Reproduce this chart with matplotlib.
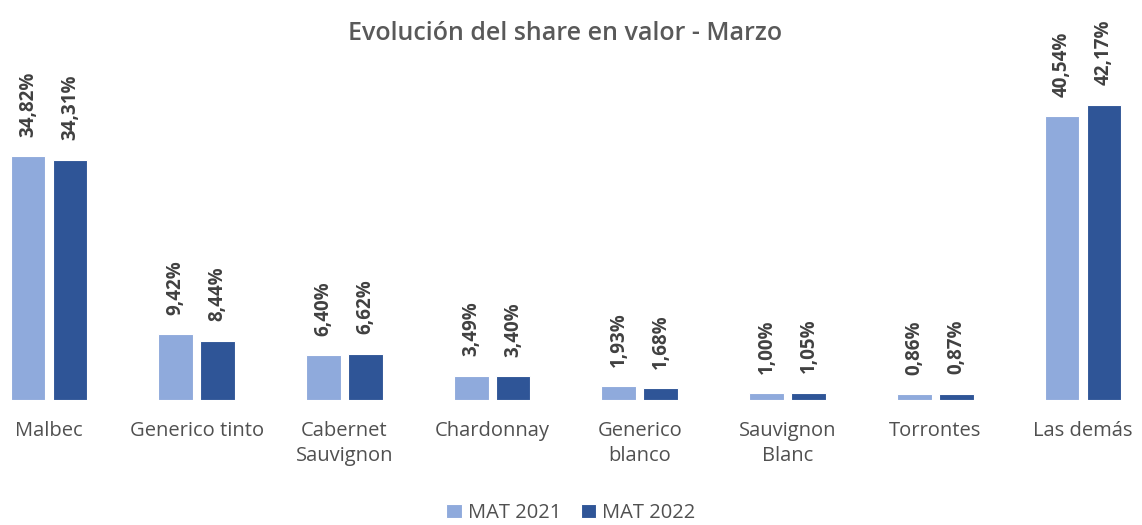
import matplotlib.pyplot as plt
import numpy as np

# datos
categorias = ['Malbec', 'Generico tinto', 'Cabernet\nSauvignon', 'Chardonnay',
              'Generico\nblanco', 'Sauvignon\nBlanc', 'Torrontes', 'Las demás']
mat_2021 = [34.82, 9.42, 6.40, 3.49, 1.93, 1.00, 0.86, 40.54]
mat_2022 = [34.31, 8.44, 6.62, 3.40, 1.68, 1.05, 0.87, 42.17]
series = ['MAT 2021', 'MAT 2022']
colores = ['#8FAADC', '#2F5597']

plt.rcParams['font.family'] = ['Open Sans', 'DejaVu Sans']
gris = '#595959'

fig = plt.figure(figsize=(11.42, 5.25), dpi=100)
ax = fig.add_axes([0, 125/525, 1, 350/525])

x = np.arange(len(categorias))
ancho = 0.235
desp = 0.142
for vals, col, nom, d in zip([mat_2021, mat_2022], colores, series, [-desp, desp]):
    barras = ax.bar(x + d, vals, ancho, color=col, edgecolor='white', linewidth=0.8, label=nom)
    for b, v in zip(barras, vals):
        ax.annotate(('%.2f%%' % v).replace('.', ','),
                    (b.get_x() + b.get_width()/2, b.get_height()),
                    xytext=(0, 14), textcoords='offset points',
                    rotation=90, ha='center', va='bottom',
                    fontsize=13.5, fontweight='bold', color='#404040')

ax.set_xlim(-0.332, 7.40)
ax.set_ylim(0, 50)
ax.set_xticks(x)
ax.set_xticklabels(categorias, fontsize=14.5, color='#505050', linespacing=1.35, va='top')
ax.tick_params(axis='x', length=0, pad=15)
ax.set_yticks([])
for s in ax.spines.values():
    s.set_visible(False)

fig.text(0.495, 1 - 33/525, 'Evolución del share en valor - Marzo', ha='center', va='center',
         fontsize=18, fontweight='semibold', color=gris)

fig.legend(loc='center', bbox_to_anchor=(0.5, 1 - 513/525), ncol=2, frameon=False,
           fontsize=14.5, handlelength=0.75, handleheight=0.75, handletextpad=0.3,
           columnspacing=1.0, labelcolor='#505050')

fig.savefig('out.png', dpi=100)
